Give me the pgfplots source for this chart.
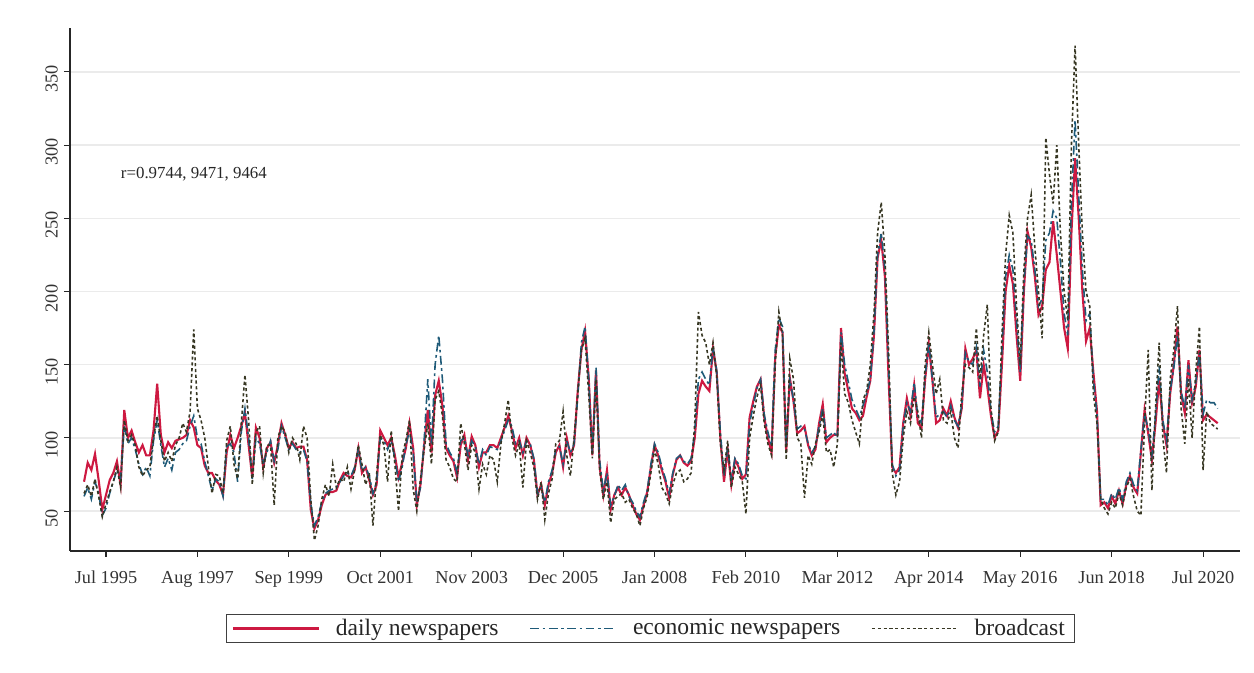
\documentclass[border=0pt]{standalone}
\usepackage{pgfplots}
\usepackage{pgfplotstable}
\pgfplotsset{compat=1.18}
\usepackage{fontspec}
\setmainfont{Liberation Serif}
\definecolor{dailyc}{RGB}{205,25,65}
\definecolor{econc}{RGB}{30,90,120}
\definecolor{broadc}{RGB}{55,55,35}

\pgfplotstableread{
m d e b
0 70 60 62
1 83 66 68
2 78 58 60
3 89 70 72
4 71 62 60
5 51 47 46
6 61 52 55
7 71 62 63
8 76 70 70
9 84 78 80
10 68 72 66
11 119 108 112
12 100 96 98
13 105 100 102
14 97 92 95
15 90 82 80
16 95 75 74
17 88 80 78
18 88 74 80
19 105 98 100
20 137 112 115
21 102 95 98
22 90 80 84
23 97 86 90
24 93 78 84
25 98 90 95
26 99 92 100
27 100 96 110
28 102 98 104
29 112 108 118
30 107 115 174
31 95 100 120
32 93 96 112
33 81 84 100
34 76 74 80
35 76 64 62
36 71 72 75
37 68 70 74
38 61 60 62
39 90 94 98
40 102 96 108
41 93 90 82
42 100 70 72
43 108 104 110
44 117 120 143
45 95 100 112
46 73 72 68
47 107 100 104
48 100 96 108
49 80 82 76
50 93 90 95
51 97 98 95
52 83 84 54
53 95 92 100
54 110 108 108
55 102 100 104
56 93 92 90
57 97 96 100
58 93 92 96
59 94 90 85
60 94 92 108
61 85 84 100
62 51 55 58
63 38 40 30
64 44 46 40
65 54 56 58
66 61 62 68
67 63 64 60
68 63 65 82
69 64 66 66
70 71 70 72
71 76 74 70
72 74 76 80
73 73 74 65
74 78 80 78
75 93 92 95
76 76 78 82
77 80 80 68
78 71 74 76
79 61 62 40
80 68 70 75
81 105 100 102
82 100 98 95
83 95 92 70
84 100 98 105
85 88 86 82
86 73 70 50
87 83 80 88
88 93 95 98
89 110 105 112
90 93 90 65
91 54 56 50
92 68 66 72
93 95 98 92
94 119 140 110
95 90 95 82
96 129 150 126
97 139 170 132
98 122 140 115
99 93 96 85
100 88 90 80
101 84 86 72
102 73 76 70
103 95 98 110
104 102 100 96
105 85 88 78
106 101 98 95
107 95 94 90
108 80 82 65
109 90 92 82
110 90 88 75
111 95 94 88
112 95 93 85
113 93 92 70
114 100 98 96
115 107 105 110
116 115 112 126
117 105 108 100
118 93 96 88
119 100 98 96
120 88 90 66
121 100 98 98
122 95 96 90
123 85 86 80
124 61 62 58
125 68 66 70
126 54 56 44
127 68 70 62
128 76 78 72
129 90 92 96
130 95 94 98
131 80 82 118
132 100 98 88
133 88 90 74
134 95 96 100
135 132 128 130
136 160 165 160
137 173 176 168
138 141 140 130
139 88 90 86
140 146 148 140
141 80 84 78
142 61 64 58
143 78 76 70
144 51 54 42
145 61 60 58
146 66 68 60
147 61 64 62
148 66 68 56
149 61 60 58
150 54 56 52
151 48 50 48
152 44 46 40
153 54 56 52
154 63 64 60
155 80 82 76
156 95 96 92
157 88 90 82
158 78 80 66
159 70 72 62
160 59 62 55
161 75 76 68
162 85 86 76
163 88 88 78
164 83 84 70
165 81 82 72
166 84 86 76
167 100 104 110
168 130 140 186
169 139 145 170
170 135 140 165
171 132 136 150
172 161 162 165
173 145 146 142
174 100 104 96
175 70 74 78
176 92 94 98
177 68 72 66
178 85 86 80
179 80 82 75
180 72 74 70
181 75 72 48
182 114 110 100
183 125 122 115
184 135 134 128
185 140 140 136
186 114 116 110
187 100 104 96
188 90 94 88
189 155 160 150
190 177 182 186
191 172 176 170
192 90 95 85
193 141 140 154
194 125 126 140
195 103 106 100
196 105 108 96
197 108 106 59
198 95 96 88
199 88 90 82
200 92 94 96
201 110 108 104
202 123 120 116
203 97 100 90
204 100 102 92
205 102 104 80
206 102 100 96
207 175 172 165
208 144 150 130
209 132 138 124
210 120 126 112
211 117 120 104
212 112 114 96
213 115 122 126
214 128 130 132
215 139 140 150
216 170 172 185
217 223 225 240
218 235 240 261
219 210 215 225
220 141 150 160
221 80 82 76
222 76 74 61
223 80 78 70
224 110 108 100
225 127 124 118
226 115 118 110
227 136 138 128
228 110 114 118
229 107 110 100
230 140 142 150
231 164 165 172
232 139 140 150
233 110 114 130
234 112 116 140
235 120 118 112
236 115 114 110
237 125 122 118
238 114 112 100
239 107 108 93
240 120 122 130
241 161 158 150
242 150 152 148
243 154 150 145
244 160 162 175
245 127 135 140
246 150 160 170
247 135 145 191
248 115 118 120
249 100 104 98
250 105 108 104
251 150 160 170
252 200 210 225
253 218 225 252
254 205 215 240
255 170 180 190
256 139 145 150
257 200 205 215
258 241 238 250
259 230 235 266
260 210 215 230
261 184 190 200
262 190 195 168
263 215 235 305
264 220 240 280
265 248 255 260
266 225 250 300
267 200 220 240
268 175 185 200
269 161 170 180
270 240 260 300
271 291 317 368
272 250 265 300
273 200 215 240
274 166 180 200
275 175 185 190
276 145 140 130
277 118 116 110
278 54 58 58
279 56 58 52
280 52 54 48
281 60 62 56
282 55 58 52
283 64 66 62
284 55 58 54
285 68 70 66
286 74 76 72
287 66 68 60
288 62 64 50
289 90 92 47
290 119 116 110
291 103 106 160
292 85 88 64
293 110 115 120
294 140 149 165
295 110 112 100
296 95 98 76
297 130 132 140
298 150 148 160
299 176 170 190
300 130 132 120
301 117 120 96
302 153 150 140
303 124 126 100
304 135 138 145
305 160 158 176
306 112 116 78
307 116 126 118
308 114 124 110
309 112 124 108
310 110 120 106
}\datatable

\begin{document}
\begin{tikzpicture}
\path[use as bounding box] (0,0) rectangle (25.08,13.46);
\begin{axis}[
  at={(1.4cm,2.44cm)}, anchor=south west,
  scale only axis, width=23.4cm, height=10.46cm,
  xmin=-3.84, xmax=316.1, ymin=22.7, ymax=380,
  axis x line*=bottom, axis y line*=left,
  axis line style={black!85, line width=0.6pt, -},
  xtick={6,31,56,81,106,131,156,181,206,231,256,281,306},
  xticklabels={Jul 1995,Aug 1997,Sep 1999,Oct 2001,Nov 2003,Dec 2005,Jan 2008,Feb 2010,Mar 2012,Apr 2014,May 2016,Jun 2018,Jul 2020},
  ytick={50,100,150,200,250,300,350},
  /pgf/number format/assume math mode=true,
  ymajorgrids, grid style={black!8, line width=0.8pt},
  tick align=outside, major tick length=0.12cm,
  tick style={black!85, line width=0.6pt},
  xticklabel style={font=\fontsize{10.4}{12}\selectfont, text=black!80, yshift=-0.16cm},
  yticklabel style={font=\fontsize{10.4}{12}\selectfont, text=black!80, rotate=90, anchor=south, xshift=-0.14cm},
  legend style={at={(axis description cs:0.4962,-0.1482)}, anchor=center,
    legend columns=3, draw=black!75, line width=0.6pt,
    font=\fontsize{13.4}{15}\selectfont, inner xsep=3pt, inner ysep=0pt,
    nodes={inner sep=2.5pt, text=black!85},
    /tikz/every odd column/.append style={column sep=0.23cm},
    /tikz/every even column/.append style={column sep=0.53cm}},
  legend image code/.code={\draw[#1] (0cm,0cm) -- (1.72cm,0cm);},
]
\addplot[dailyc, line width=1.2pt] table[x=m, y=d] {\datatable};
\addlegendentry{daily newspapers}
\addplot[econc, line width=0.9pt, dash pattern=on 5pt off 2pt on 1.5pt off 2pt] table[x=m, y=e] {\datatable};
\addlegendentry{economic newspapers}
\addplot[broadc, line width=0.9pt, dash pattern=on 1.8pt off 1.5pt] table[x=m, y=b] {\datatable};
\addlegendentry{broadcast}
\node[anchor=west, inner sep=0pt, font=\fontsize{9.6}{11}\selectfont, text=black!85] at (axis cs:10,280) {r=0.9744, 9471, 9464};
\end{axis}
\end{tikzpicture}
\end{document}
